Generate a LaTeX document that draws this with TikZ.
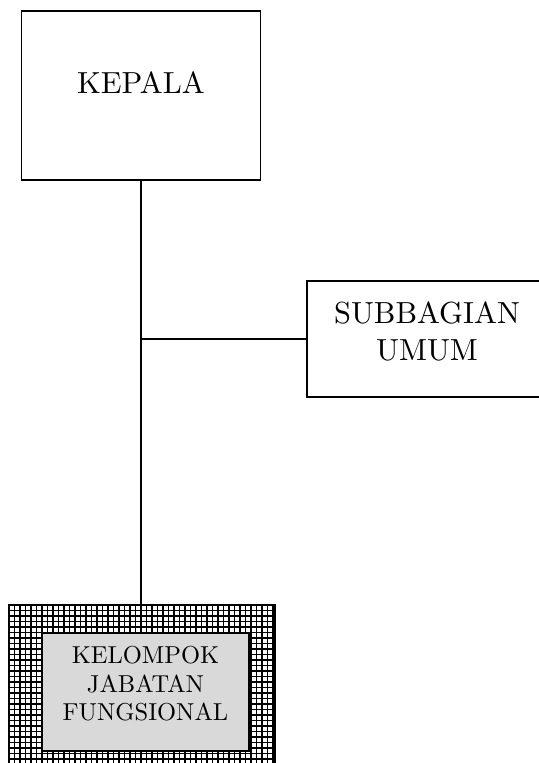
\documentclass[tikz,border=0pt]{standalone}
\usepackage{fontspec}
\newfontfamily\lmten{lmroman10-regular.otf}
\begin{document}
\begin{tikzpicture}[x=1bp,y=-1bp,
  box/.style={draw=black,line width=1.2bp,fill=white,inner sep=0pt},
  conn/.style={draw=black,line width=1.1bp},
  bigtxt/.style={font=\lmten\fontsize{30.5bp}{37bp}\selectfont,align=center,inner sep=0pt},
  smalltxt/.style={font=\lmten\fontsize{24.5bp}{28.5bp}\selectfont,align=center,inner sep=0pt},
  gridline/.style={draw=black,line width=1.1bp}]
\useasboundingbox (0,0) rectangle (539,763);
\begin{scope}
\clip (0,0) rectangle (539,763);
% KEPALA
\node[box,minimum width=239bp,minimum height=169bp] (kepala) at (141,95.5) {};
\node[bigtxt] (kepalatxt) at (141,83) {KEPALA};
% SUBBAGIAN UMUM
\node[box,minimum width=260bp,minimum height=116bp] (sub) at (437,339) {};
\node[bigtxt] (subtxt) at (427,331) {SUBBAGIAN\\UMUM};
% KELOMPOK JABATAN FUNGSIONAL outer patterned box
\node[box,minimum width=266bp,minimum height=190bp] (outer) at (142,700) {};
\begin{scope}
\clip (9,605) rectangle (275,795);
\foreach \i in {0,...,49} {\draw[gridline] (9+5.5*\i,600) -- (9+5.5*\i,800);}
\foreach \j in {0,...,35} {\draw[gridline] (0,605+5.5*\j) -- (280,605+5.5*\j);}
\end{scope}
\draw[line width=1.5bp] (9,605) rectangle (275,795);
\node[draw=black,line width=1.8bp,fill=black!15,minimum width=207bp,minimum height=118bp,inner sep=0pt] (kjf) at (145.5,692) {};
\node[smalltxt] (kjftxt) at (145.5,684) {KELOMPOK\\JABATAN\\FUNGSIONAL};
% connectors
\coordinate (junction) at (kepala.south |- sub.west);
\draw[conn] (kepala.south) -- (kepala.south |- outer.north);
\draw[conn] (junction) -- (sub.west);
\end{scope}
\end{tikzpicture}
\end{document}
